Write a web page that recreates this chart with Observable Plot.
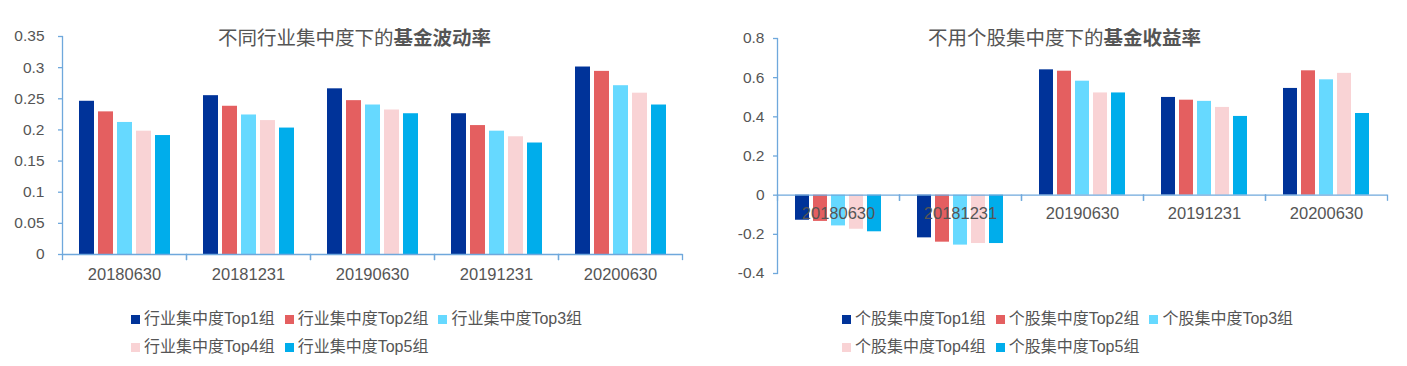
<!DOCTYPE html>
<html>
<head>
<meta charset="utf-8">
<script src="https://cdn.jsdelivr.net/npm/d3@7"></script>
<script src="https://cdn.jsdelivr.net/npm/@observablehq/plot@0.6"></script>
<style>
  html, body { margin: 0; padding: 0; background: #fff; }
  #root { position: relative; width: 1407px; height: 366px; overflow: hidden; background: #fff;
    font-family: "Liberation Sans", "Noto Sans CJK SC", sans-serif; color: #555; }
  .chart { position: absolute; top: 0; }
  .title { position: absolute; font-size: 19.5px; white-space: nowrap; line-height: 1; color: #555; }
  .title b { font-weight: bold; }
  .legend { position: absolute; display: flex; flex-wrap: wrap; font-size: 16px; line-height: 28px; }
  .legend .item { display: inline-flex; align-items: center; margin-right: 10px; white-space: nowrap; }
  .legend .sw { width: 9px; height: 9px; margin-right: 4px; display: inline-block; }
</style>
</head>
<body>
<div id="root"></div>
<script>
// ---- data ----
const dates = ["20180630", "20181231", "20190630", "20191231", "20200630"];

const volGroups = ["行业集中度Top1组", "行业集中度Top2组", "行业集中度Top3组", "行业集中度Top4组", "行业集中度Top5组"];
const volTop1 = [0.246, 0.255, 0.266, 0.226, 0.301];
const volTop2 = [0.229, 0.238, 0.247, 0.207, 0.294];
const volTop3 = [0.212, 0.224, 0.240, 0.198, 0.271];
const volTop4 = [0.198, 0.215, 0.232, 0.189, 0.259];
const volTop5 = [0.191, 0.203, 0.226, 0.179, 0.240];
const volTicks = [0, 0.05, 0.1, 0.15, 0.2, 0.25, 0.3, 0.35];

const retGroups = ["个股集中度Top1组", "个股集中度Top2组", "个股集中度Top3组", "个股集中度Top4组", "个股集中度Top5组"];
const retTop1 = [-0.128, -0.218, 0.640, 0.499, 0.545];
const retTop2 = [-0.134, -0.240, 0.633, 0.485, 0.635];
const retTop3 = [-0.157, -0.255, 0.582, 0.479, 0.589];
const retTop4 = [-0.174, -0.247, 0.522, 0.448, 0.622];
const retTop5 = [-0.187, -0.247, 0.522, 0.402, 0.417];
const retTicks = [-0.4, -0.2, 0, 0.2, 0.4, 0.6, 0.8];

const colors = ["#003399", "#E45F60", "#66D9FF", "#F9D3D5", "#00ADEB"];
const axisBlue = "#6FA8DC";
const gray = "#555555";

function toRows(groups, series) {
  const rows = [];
  dates.forEach((d, i) => groups.forEach((g, k) => rows.push({date: d, group: g, value: series[k][i]})));
  return rows;
}

function makeChart({rows, groups, ticks, domain, width, height, margin, tickPadding, labelDy}) {
  const innerH = height - margin.top - margin.bottom;
  const zeroFromTop = innerH * (domain[1] - 0) / (domain[1] - domain[0]);
  return Plot.plot({
    width, height,
    marginTop: margin.top, marginBottom: margin.bottom, marginLeft: margin.left, marginRight: margin.right,
    style: {fontFamily: '"Liberation Sans", "Noto Sans CJK SC", sans-serif', fontSize: "15px", color: gray, background: "transparent"},
    fx: {domain: dates, padding: 0, axis: null},
    x: {domain: groups, paddingInner: 0.22, paddingOuter: 0.85, axis: null},
    y: {domain, axis: null},
    color: {domain: groups, range: colors},
    marks: [
      Plot.barY(rows, {fx: "date", x: "group", y: "value", fill: "group"}),
      Plot.ruleY([0], {stroke: axisBlue, strokeWidth: 1.3}),
      Plot.frame({anchor: "left", stroke: axisBlue, strokeWidth: 1.3, insetTop: zeroFromTop, insetBottom: innerH - zeroFromTop - 5}),
      Plot.frame({anchor: "right", stroke: axisBlue, strokeWidth: 1.3, insetTop: zeroFromTop, insetBottom: innerH - zeroFromTop - 5}),
      Plot.frame({anchor: "left", fx: () => dates[0], stroke: axisBlue, strokeWidth: 1.3}),
      Plot.text(dates, {fx: d => d, y: 0, text: d => d, dy: labelDy, fontSize: 16.5, fill: gray, lineAnchor: "middle"}),
      Plot.axisY(ticks, {anchor: "left", tickSize: 4, tickPadding, stroke: axisBlue, strokeWidth: 1.3, fill: gray, fontSize: 15.5, label: null, tickFormat: d => String(d)})
    ]
  });
}

const root = document.getElementById("root");

// left chart
const left = makeChart({
  rows: toRows(volGroups, [volTop1, volTop2, volTop3, volTop4, volTop5]),
  groups: volGroups, ticks: volTicks, domain: [0, 0.35],
  width: 703, height: 300,
  margin: {top: 36, bottom: 46, left: 61, right: 20},
  tickPadding: 14, labelDy: 20
});
left.classList.add("chart");
left.style.left = "0px";
root.appendChild(left);

// right chart
const right = makeChart({
  rows: toRows(retGroups, [retTop1, retTop2, retTop3, retTop4, retTop5]),
  groups: retGroups, ticks: retTicks, domain: [-0.4, 0.8],
  width: 707, height: 300,
  margin: {top: 38, bottom: 27, left: 77, right: 20},
  tickPadding: 9, labelDy: 19
});
right.classList.add("chart");
right.style.left = "700px";
root.appendChild(right);

// titles
function addTitle(normal, bold, x, y) {
  const t = document.createElement("div");
  t.className = "title";
  t.style.left = x + "px";
  t.style.top = y + "px";
  t.innerHTML = normal + "<b>" + bold + "</b>";
  root.appendChild(t);
}
addTitle("不同行业集中度下的", "基金波动率", 218, 29);
addTitle("不用个股集中度下的", "基金收益率", 928, 29);

// legends
function addLegend(groups, x, y, w) {
  const lg = document.createElement("div");
  lg.className = "legend";
  lg.style.left = x + "px";
  lg.style.top = y + "px";
  lg.style.width = w + "px";
  groups.forEach((g, i) => {
    const it = document.createElement("span");
    it.className = "item";
    it.innerHTML = `<span class="sw" style="background:${colors[i]}"></span>${g}`;
    lg.appendChild(it);
  });
  root.appendChild(lg);
}
addLegend(volGroups, 131, 305, 470);
addLegend(retGroups, 842, 305, 470);
</script>
</body>
</html>
